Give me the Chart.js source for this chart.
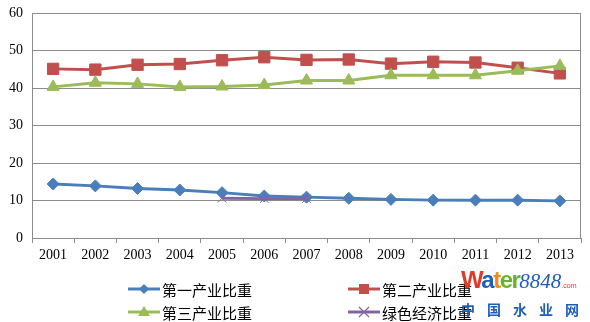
<!DOCTYPE html>
<html>
<head>
<meta charset="utf-8">
<script src="https://cdn.jsdelivr.net/npm/chart.js@4/dist/chart.umd.min.js"></script>
<style>
  html, body { margin: 0; padding: 0; background: #fff; }
  #wrap { position: relative; width: 590px; height: 322px; }
  #chart { position: absolute; left: 0; top: 0; }
  .legend-item { position: absolute; height: 20px; display: flex; align-items: center;
    font-family: "Noto Sans CJK SC", sans-serif; font-size: 15px; color: #000; }
  .legend-item svg { margin-right: 2px; }
  #mark { position: absolute; left: 461px; top: 268px; font-family: "Liberation Sans", sans-serif; white-space: nowrap; }
  #mark .top { font-weight: bold; font-size: 24px; letter-spacing: -1.5px; line-height: 24px; }
  #mark .num { font-family: "Liberation Serif", serif; font-style: italic; font-weight: normal; font-size: 21px; color: #1f5fb4; letter-spacing: 0; }
  #mark .com { font-size: 7px; color: #e03a2a; font-weight: normal; letter-spacing: 0; }
  #mark .cn { font-family: "Noto Sans CJK SC", sans-serif; font-weight: bold; font-size: 14px; color: #1f5fb4; letter-spacing: 12px; line-height: 22px; margin-left: 0; }
</style>
</head>
<body>
<div id="wrap">
  <canvas id="chart" width="590" height="322"></canvas>
  <div id="legend"></div>
  <div id="mark">
    <div class="top"><span style="color:#e03a2a">W</span><span style="color:#1f5fb4">a</span><span style="color:#f08a1c">t</span><span style="color:#6ab42d">er</span><span class="num">8848</span><span class="com">.com</span></div>
    <div class="cn">中国水业网</div>
  </div>
</div>
<script>
const years = ['2001', '2002', '2003', '2004', '2005', '2006', '2007', '2008', '2009', '2010', '2011', '2012', '2013'];
const seriesNames = ['第一产业比重', '第二产业比重', '第三产业比重', '绿色经济比重'];
const primaryShare = [14.4, 13.9, 13.2, 12.8, 12.1, 11.2, 10.9, 10.6, 10.3, 10.1, 10.1, 10.1, 9.9];
const secondaryShare = [45.1, 44.9, 46.2, 46.4, 47.4, 48.2, 47.5, 47.6, 46.5, 47.0, 46.8, 45.4, 43.9];
const tertiaryShare = [40.3, 41.4, 41.1, 40.3, 40.4, 40.8, 42.0, 42.0, 43.4, 43.4, 43.4, 44.6, 45.9];
const greenShare = [null, null, null, null, 10.6, 10.5, 10.5, null, null, null, null, null, null];
const yTicks = [0, 10, 20, 30, 40, 50, 60];

const colors = ['#4a7ebb', '#c0504d', '#9bbb59', '#8064a2'];
const markers = ['rectRot', 'rect', 'triangle', 'crossRot'];
const radii = [6, 8, 7, 6];

// gray frame around the plot area (top/right edges)
const framePlugin = {
  id: 'frame',
  beforeDatasetsDraw(chart) {
    const a = chart.chartArea, ctx = chart.ctx;
    ctx.save();
    ctx.strokeStyle = '#8c8c8c';
    ctx.lineWidth = 1;
    ctx.strokeRect(a.left + 0.5, a.top + 0.5, a.right - a.left - 1, a.bottom - a.top);
    ctx.restore();
  }
};

const datasets = [primaryShare, secondaryShare, tertiaryShare, greenShare].map((data, i) => ({
  label: seriesNames[i],
  data: data,
  borderColor: colors[i],
  backgroundColor: colors[i],
  borderWidth: 3,
  pointStyle: markers[i],
  pointRadius: radii[i],
  pointBorderWidth: 1,
  pointBorderColor: colors[i],
  pointBackgroundColor: colors[i],
  tension: 0,
  spanGaps: false
}));
// draw blue on top like the original
datasets.reverse();

new Chart(document.getElementById('chart').getContext('2d'), {
  type: 'line',
  data: { labels: years, datasets: datasets },
  options: {
    responsive: false,
    animation: false,
    layout: { padding: { top: 13, right: 5, left: 0, bottom: 0 } },
    plugins: { legend: { display: false }, tooltip: { enabled: false } },
    scales: {
      x: {
        offset: true,
        grid: { offset: true, drawOnChartArea: false, drawTicks: true, tickLength: 5, color: '#8c8c8c' },
        border: { color: '#8c8c8c' },
        ticks: { color: '#000', font: { family: 'Liberation Serif', size: 14 }, padding: 4, maxRotation: 0 },
        afterFit(scale) { scale.height = 84; scale.paddingLeft = 0; scale.paddingRight = 0; }
      },
      y: {
        min: 0,
        max: 60,
        afterBuildTicks(scale) { scale.ticks = yTicks.map(v => ({ value: v })); },
        grid: { color: '#8c8c8c', drawTicks: false },
        border: { color: '#8c8c8c' },
        ticks: { color: '#000', font: { family: 'Liberation Serif', size: 14 }, padding: 9 },
        afterFit(scale) { scale.width = 32; scale.paddingTop = 0; scale.paddingBottom = 0; }
      }
    }
  },
  plugins: [framePlugin]
});

// legend laid out in two columns like the original
const legendPos = [[128, 279], [348, 279], [128, 302], [348, 302]];
const legend = document.getElementById('legend');
seriesNames.forEach((name, i) => {
  const c = colors[i];
  let marker;
  if (i === 0) marker = `<polygon points="16,5 21,10 16,15 11,10" fill="${c}"/>`;
  else if (i === 1) marker = `<rect x="11" y="5" width="10" height="10" fill="${c}"/>`;
  else if (i === 2) marker = `<polygon points="16,4 22,14 10,14" fill="${c}"/>`;
  else marker = `<path d="M11,5 L21,15 M21,5 L11,15" stroke="${c}" stroke-width="1.2"/>`;
  const item = document.createElement('div');
  item.className = 'legend-item';
  item.style.left = legendPos[i][0] + 'px';
  item.style.top = legendPos[i][1] + 'px';
  item.innerHTML = `<svg width="32" height="20"><line x1="0" y1="10" x2="32" y2="10" stroke="${c}" stroke-width="3"/>${marker}</svg><span>${name}</span>`;
  legend.appendChild(item);
});
</script>
</body>
</html>
